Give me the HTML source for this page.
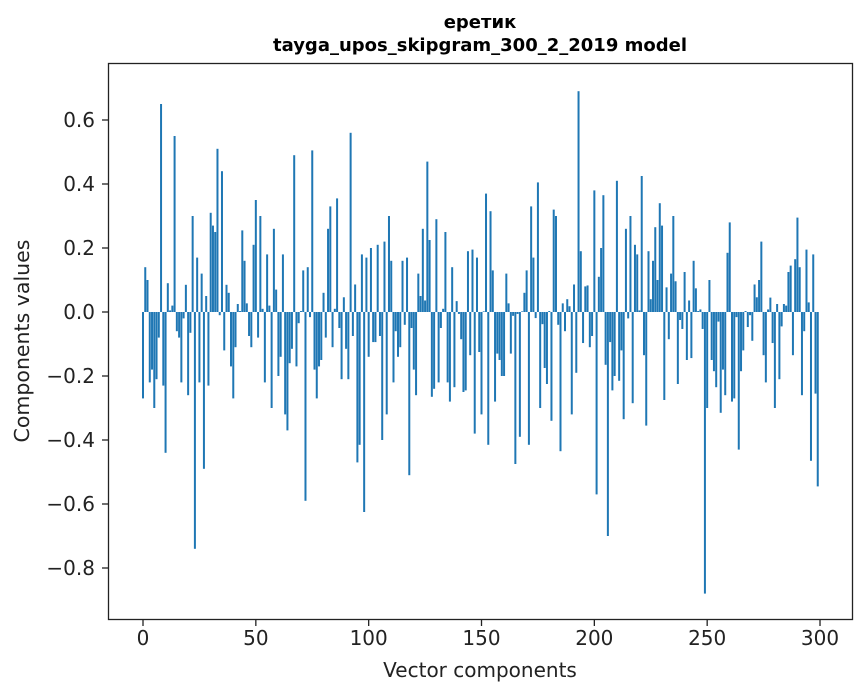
<!DOCTYPE html>
<html><head><meta charset="utf-8"><style>
html,body{margin:0;padding:0;background:#fff;}
svg{display:block;font-family:"DejaVu Sans","Liberation Sans",sans-serif;}
</style></head><body>
<svg id="s" width="867" height="696" xmlns="http://www.w3.org/2000/svg">
<rect width="867" height="696" fill="#fff"/>
<text x="480" y="28" font-size="18" font-weight="bold" text-anchor="middle">еретик</text>
<text x="480" y="51" font-size="18" font-weight="bold" text-anchor="middle">tayga_upos_skipgram_300_2_2019 model</text>
<g id="bars" fill="#1f77b4"></g>
<rect x="108.5" y="63.5" width="744" height="556" fill="none" stroke="#222" stroke-width="1.3"/>
<g id="ticks" stroke="#222" stroke-width="1.3"></g>
<g id="labels" font-size="20" fill="#222"></g>
<text x="480" y="677" font-size="20" text-anchor="middle" fill="#222">Vector components</text>
<text transform="translate(29,341) rotate(-90)" font-size="20.5" text-anchor="middle" fill="#222">Components values</text>
</svg>
<script>
var v=[-0.27,0.14,0.10,-0.22,-0.18,-0.30,-0.21,-0.08,0.65,-0.23,-0.44,0.09,0.005,0.02,0.55,-0.06,-0.08,-0.22,-0.02,0.085,-0.26,-0.065,0.30,-0.74,0.17,-0.22,0.12,-0.49,0.05,-0.23,0.31,0.27,0.25,0.51,-0.01,0.44,-0.12,0.085,0.06,-0.17,-0.27,-0.11,0.025,0.003,0.255,0.16,0.027,-0.075,-0.11,0.21,
0.35,-0.08,0.30,0.01,-0.22,0.18,0.02,-0.30,0.26,0.07,-0.20,-0.14,0.18,-0.32,-0.37,-0.16,-0.115,0.49,-0.17,-0.035,0.003,0.13,-0.59,0.14,-0.016,0.505,-0.18,-0.27,-0.17,-0.15,0.06,-0.08,0.26,0.33,-0.11,0.01,0.355,-0.05,-0.21,0.046,-0.115,-0.21,0.56,-0.075,0.086,-0.47,-0.415,0.18,-0.625,0.17,
-0.14,0.20,-0.094,-0.094,0.21,-0.075,-0.40,0.22,-0.32,0.30,0.16,-0.22,-0.06,-0.14,-0.11,0.16,-0.04,0.17,-0.51,-0.05,-0.18,-0.26,0.12,0.05,0.26,0.036,0.47,0.225,-0.265,-0.24,0.29,-0.22,-0.05,0.01,0.25,-0.22,-0.28,0.14,-0.235,0.034,-0.006,-0.085,-0.25,-0.245,0.19,-0.135,0.195,-0.38,0.17,-0.125,
-0.32,0.002,0.37,-0.415,0.315,0.13,-0.28,-0.13,-0.15,-0.20,-0.20,0.12,0.027,-0.13,-0.012,-0.475,-0.006,-0.39,0.002,0.06,0.13,-0.415,0.33,0.17,-0.019,0.405,-0.30,-0.038,-0.175,-0.225,0.003,-0.34,0.32,0.30,-0.04,-0.435,0.027,-0.06,0.04,0.018,-0.32,0.086,-0.19,0.69,0.19,-0.097,0.08,0.083,-0.11,-0.075,
0.38,-0.57,0.11,0.20,0.365,-0.165,-0.70,-0.094,-0.245,-0.20,0.41,-0.215,-0.12,-0.335,0.26,-0.02,0.30,-0.285,0.21,0.18,0.005,0.425,-0.135,-0.355,0.19,0.04,0.16,0.265,0.10,0.34,0.27,-0.275,0.077,-0.085,0.12,0.30,0.096,-0.225,-0.025,-0.053,0.125,-0.15,0.036,-0.144,0.16,0.074,0.003,0.008,-0.053,-0.88,
-0.30,0.10,-0.15,-0.185,-0.235,-0.03,-0.315,-0.18,-0.26,0.185,0.28,-0.28,-0.27,-0.016,-0.43,-0.185,-0.12,0.003,-0.047,-0.01,-0.09,0.086,0.046,0.10,0.22,-0.135,-0.22,0.008,0.045,-0.097,-0.30,0.025,-0.21,-0.045,0.025,0.02,0.125,0.145,-0.135,0.165,0.295,0.14,-0.26,-0.06,0.195,0.03,-0.465,0.18,-0.255,-0.545];
var NS="http://www.w3.org/2000/svg";
function X(i){return 143+2.2567*i;}
function Y(val){return 312-320*val;}
var g=document.getElementById("bars");
for(var i=0;i<v.length;i++){
 var r=document.createElementNS(NS,"rect");
 var y0=Y(0),y1=Y(v[i]);
 r.setAttribute("x",(X(i)-1).toFixed(2));
 r.setAttribute("width","2");
 r.setAttribute("y",Math.min(y0,y1).toFixed(2));
 r.setAttribute("height",Math.max(0.3,Math.abs(y1-y0)).toFixed(2));
 g.appendChild(r);
}
var t=document.getElementById("ticks"),L=document.getElementById("labels");
function line(x1,y1,x2,y2){var l=document.createElementNS(NS,"line");l.setAttribute("x1",x1);l.setAttribute("y1",y1);l.setAttribute("x2",x2);l.setAttribute("y2",y2);t.appendChild(l);}
function txt(x,y,s,a){var e=document.createElementNS(NS,"text");e.setAttribute("x",x);e.setAttribute("y",y);e.setAttribute("text-anchor",a);e.textContent=s;L.appendChild(e);}
for(var k=0;k<=300;k+=50){var x=X(k);line(x,620,x,626);txt(x,645,String(k),"middle");}
for(var k=-4;k<=3;k++){var val=k*0.2;var y=Y(val);line(102,y,108,y);var s=(val<0?"\u2212":"")+Math.abs(val).toFixed(1);txt(95,y+7,s,"end");}
</script>
</body></html>
